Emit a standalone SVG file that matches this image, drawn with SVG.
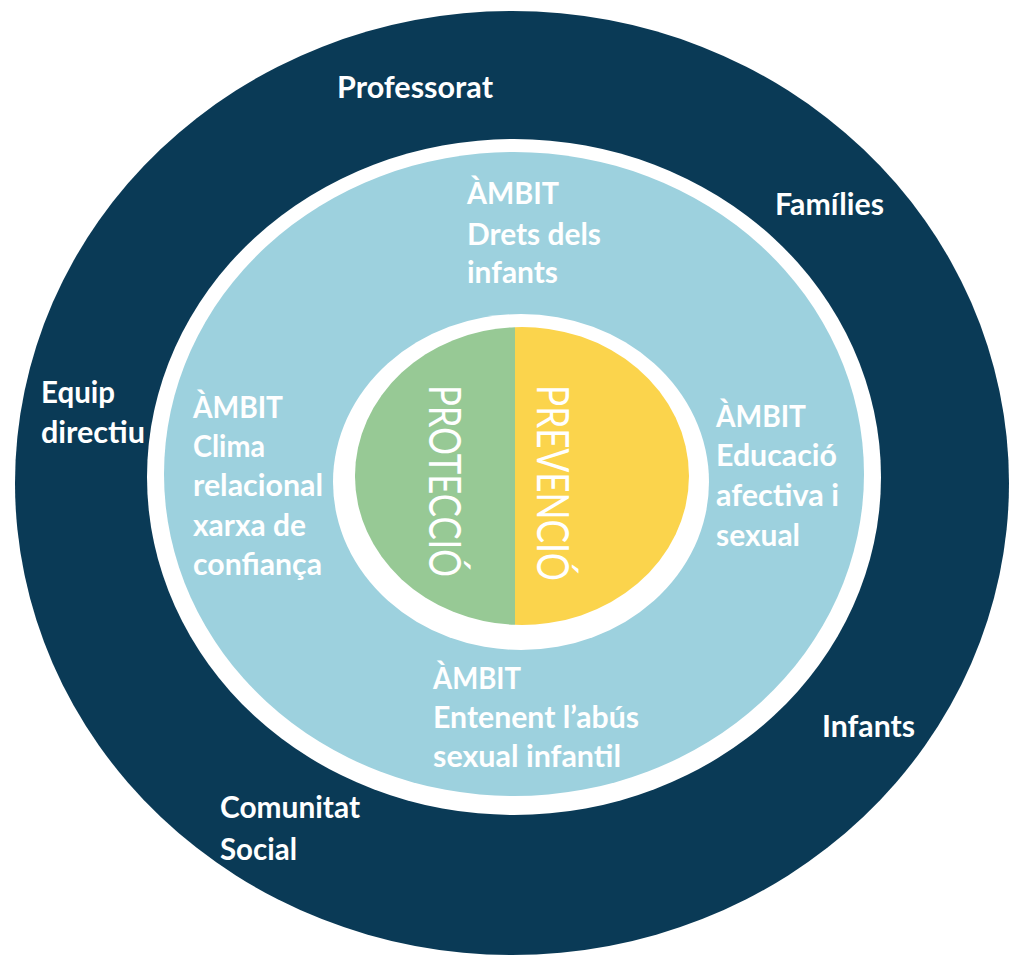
<svg xmlns="http://www.w3.org/2000/svg" width="1010" height="956" viewBox="0 0 1010 956">
<style>
.t{font-family:Lato,"Liberation Sans",sans-serif;fill:#ffffff;font-size:30px;}
.b{font-weight:bold;}
.v{font-family:Lato,"Liberation Sans",sans-serif;fill:#ffffff;font-size:44px;}
</style>
<rect width="1010" height="956" fill="#ffffff"/>
<g id="outer-ring">
<ellipse cx="512" cy="483" rx="497" ry="472" fill="#0a3a56"/>
</g>
<g id="middle-ring">
<ellipse cx="514" cy="477" rx="367" ry="338" fill="#ffffff"/>
<ellipse cx="514" cy="474" rx="350" ry="322" fill="#9dd1de"/>
</g>
<g id="core">
<ellipse cx="521" cy="482" rx="188" ry="168" fill="#ffffff"/>
<path d="M515,327.13 A167,149 0 0,0 515,624.87 Z" fill="#97c995"/>
<path d="M515,327.13 A167,149 0 1,1 515,624.87 Z" fill="#fbd44c"/>
</g>
<g id="label-proteccio">
<text class="v" transform="translate(429,385) rotate(90)" textLength="192" lengthAdjust="spacingAndGlyphs">PROTECCIÓ</text>
</g>
<g id="label-prevencio">
<text class="v" transform="translate(537,385) rotate(90)" textLength="196" lengthAdjust="spacingAndGlyphs">PREVENCIÓ</text>
</g>
<g id="actors">
<text class="t b" x="337" y="98" textLength="156" lengthAdjust="spacingAndGlyphs">Professorat</text>
<text class="t b" x="775" y="215" textLength="109" lengthAdjust="spacingAndGlyphs">Famílies</text>
<text class="t b" x="41" y="403" textLength="74" lengthAdjust="spacingAndGlyphs">Equip</text>
<text class="t b" x="41" y="443" textLength="104" lengthAdjust="spacingAndGlyphs">directiu</text>
<text class="t b" x="822" y="737" textLength="93" lengthAdjust="spacingAndGlyphs">Infants</text>
<text class="t b" x="220" y="818" textLength="140" lengthAdjust="spacingAndGlyphs">Comunitat</text>
<text class="t b" x="220" y="860" textLength="77" lengthAdjust="spacingAndGlyphs">Social</text>
</g>
<g id="ambit-drets">
<text class="t b" x="467" y="204" textLength="92" lengthAdjust="spacingAndGlyphs">ÀMBIT</text>
<text class="t b" x="467" y="245" textLength="134" lengthAdjust="spacingAndGlyphs">Drets dels</text>
<text class="t b" x="467" y="283" textLength="91" lengthAdjust="spacingAndGlyphs">infants</text>
</g>
<g id="ambit-clima">
<text class="t b" x="193" y="418" textLength="90" lengthAdjust="spacingAndGlyphs">ÀMBIT</text>
<text class="t b" x="193" y="457" textLength="72" lengthAdjust="spacingAndGlyphs">Clima</text>
<text class="t b" x="193" y="496" textLength="130" lengthAdjust="spacingAndGlyphs">relacional</text>
<text class="t b" x="193" y="536" textLength="113" lengthAdjust="spacingAndGlyphs">xarxa de</text>
<text class="t b" x="193" y="575" textLength="129" lengthAdjust="spacingAndGlyphs">confiança</text>
</g>
<g id="ambit-educacio">
<text class="t b" x="716" y="427" textLength="90" lengthAdjust="spacingAndGlyphs">ÀMBIT</text>
<text class="t b" x="716" y="466" textLength="121" lengthAdjust="spacingAndGlyphs">Educació</text>
<text class="t b" x="716" y="506" textLength="123" lengthAdjust="spacingAndGlyphs">afectiva i</text>
<text class="t b" x="716" y="546" textLength="84" lengthAdjust="spacingAndGlyphs">sexual</text>
</g>
<g id="ambit-entenent">
<text class="t b" x="433" y="689" textLength="88" lengthAdjust="spacingAndGlyphs">ÀMBIT</text>
<text class="t b" x="433" y="728" textLength="206" lengthAdjust="spacingAndGlyphs">Entenent l’abús</text>
<text class="t b" x="433" y="767" textLength="188" lengthAdjust="spacingAndGlyphs">sexual infantil</text>
</g>
<g id="connectors"></g>
</svg>
